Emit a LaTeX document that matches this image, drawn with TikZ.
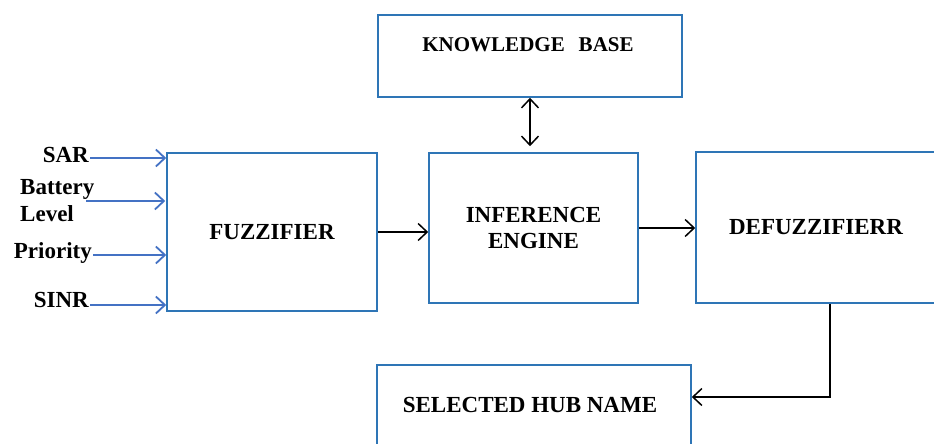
\documentclass[tikz,border=0pt]{standalone}
\usepackage{fontspec}
\setmainfont{Liberation Serif}
\usetikzlibrary{arrows.meta}
\definecolor{boxblue}{RGB}{46,117,182}
\definecolor{inblue}{RGB}{68,114,196}
\tikzset{
  block/.style={draw=boxblue,line width=1.6pt,inner sep=0pt,align=center,
    font=\fontsize{23}{26}\selectfont\bfseries},
  blocktext/.style={inner sep=0pt,font=\fontsize{23}{26}\selectfont\bfseries},
  inlabel/.style={inner sep=1pt,align=left,font=\fontsize{23}{27}\selectfont\bfseries},
  flow/.style={black,line width=1.5pt,->},
  inflow/.style={inblue,line width=1.8pt,->}
}
\begin{document}
\begin{tikzpicture}[x=1pt,y=-1pt,>={Straight Barb[length=9pt,width=17pt]}]
\useasboundingbox (0,0) rectangle (934,444);
\clip (0,0) rectangle (934,444);
% blocks
\node[block,minimum width=304pt,minimum height=82pt] (kb) at (530,56) {};
\node[blocktext,font=\fontsize{21}{26}\selectfont\bfseries] (kbtext) at (528,45) {KNOWLEDGE\hspace{14pt}BASE};
\node[block,minimum width=210pt,minimum height=158pt] (fz) at (272,232) {FUZZIFIER};
\node[block,minimum width=209pt,minimum height=150pt] (ie) at (533.5,228) {INFERENCE\\ENGINE};
\node[block,minimum width=240pt,minimum height=151pt] (df) at (816,227.5) {DEFUZZIFIERR};
\node[block,minimum width=314pt,minimum height=105pt] (hub) at (534,417.5) {};
\node[blocktext] (hubtext) at (530,405) {SELECTED HUB NAME};
% inputs
\node[inlabel,anchor=east] (sar) at (90,155) {SAR};
\node[inlabel,anchor=west] (bat) at (19,201) {Battery\\Level};
\node[inlabel,anchor=east] (pri) at (93,253) {Priority};
\node[inlabel,anchor=east] (sinr) at (90,300) {SINR};
\draw[inflow] ([yshift=-3pt]sar.east) -- ([yshift=-3pt]sar.east -| fz.west);
\draw[inflow] ([xshift=-9pt]bat.east) -- ([xshift=-1pt]bat.east -| fz.west);
\draw[inflow] ([yshift=-2pt]pri.east) -- ([yshift=-2pt]pri.east -| fz.west);
\draw[inflow] ([yshift=-5pt]sinr.east) -- ([yshift=-5pt]sinr.east -| fz.west);
% connectors
\draw[flow,<->] (kb.south) -- (kb.south |- ie.north) [shorten >=6pt];
\draw[flow] (fz.east) -- (fz.east -| ie.west);
\draw[flow] (ie.east) -- (ie.east -| df.west);
\draw[flow] ([xshift=14pt]df.south) |- ([yshift=20.5pt]hub.east);
\end{tikzpicture}
\end{document}
